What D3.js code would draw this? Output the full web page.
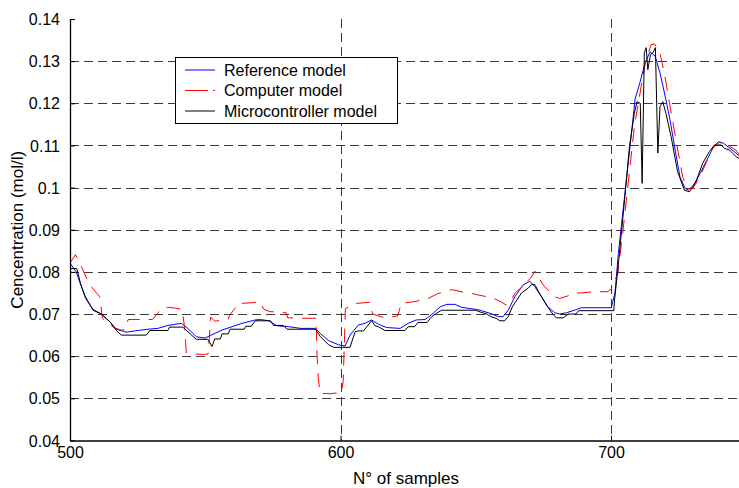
<!DOCTYPE html>
<html><head><meta charset="utf-8">
<script src="https://cdn.jsdelivr.net/npm/d3@7"></script>
<style>
body{margin:0;background:#fff;}
svg{display:block;font-family:Arial,"Liberation Sans",sans-serif;}
</style></head>
<body><svg id="c" width="739" height="488"></svg>
<script>
// ---- data (sample index, concentration mol/l) ----
const xTicks = [500, 600, 700];
const yTicks = [0.04, 0.05, 0.06, 0.07, 0.08, 0.09, 0.1, 0.11, 0.12, 0.13, 0.14];
const yTickLabels = ["0.04","0.05","0.06","0.07","0.08","0.09","0.1","0.11","0.12","0.13","0.14"];
const seriesNames = ["Reference model", "Computer model", "Microcontroller model"];

const refModel = [[500,0.0821],[502.3,0.0800],[503.6,0.0776],[505.4,0.0745],[508.5,0.0709],[511.6,0.0700],[514.7,0.0682],[517.1,0.0664],[520.8,0.0657],[523.9,0.0660],[528.8,0.0664],[532.5,0.0666],[536.2,0.0673],[541.1,0.0678],[543.6,0.0666],[546.7,0.0646],[549.9,0.0643],[552.5,0.0651],[556.2,0.0662],[559.9,0.0670],[563.6,0.0678],[568.5,0.0686],[570.4,0.0687],[573.5,0.0684],[576.6,0.0672],[580.9,0.0670],[585.2,0.0666],[590.7,0.0666],[592.5,0.0654],[595.6,0.0637],[599.3,0.0627],[601.7,0.0624],[603.5,0.0650],[606.6,0.0674],[609.1,0.0678],[611.5,0.0686],[614,0.0676],[617,0.0668],[622,0.0666],[625,0.0678],[628,0.0686],[631.3,0.0687],[634.3,0.0702],[636.8,0.0717],[639.3,0.0723],[642.3,0.0723],[644.8,0.0716],[647.9,0.0713],[650.3,0.0711],[652.1,0.0708],[655.2,0.0702],[658.3,0.0694],[660.1,0.0694],[662,0.0709],[664.4,0.0741],[667.5,0.0769],[670,0.0778],[671.8,0.0765],[674.3,0.0741],[676.7,0.0717],[679.2,0.0703],[681,0.0700],[683.5,0.0703],[685.9,0.0708],[689,0.0715],[700.1,0.0715],[701.5,0.0752],[702.7,0.0844],[704.6,0.0955],[707,0.1096],[708.9,0.1210],[710.7,0.1250],[712.6,0.1296],[714.4,0.1322],[716.3,0.1312],[718.1,0.1272],[720,0.1217],[721.8,0.1161],[723.7,0.1089],[725.5,0.1025],[727.4,0.0998],[728.6,0.0994],[730.5,0.1006],[732.9,0.1033],[735.4,0.1065],[737.9,0.1097],[739.7,0.1109],[741.6,0.1105],[744,0.1093],[747.1,0.1077],[750,0.1065]];

const computerModel = [[500,0.0821],[502,0.0841],[504,0.0816],[506.5,0.0780],[508,0.0764],[511,0.0741],[512,0.0690],[514,0.0678],[517,0.0666],[519,0.0662],[520.5,0.0664],[521.5,0.0687],[530.5,0.0687],[533.5,0.0711],[536.5,0.0716],[539,0.0714],[541.5,0.0711],[542.5,0.0660],[543,0.0607],[549,0.0604],[551,0.0605],[551.5,0.0642],[552,0.0693],[553.5,0.0683],[558.5,0.0688],[559,0.0697],[561.5,0.0718],[562,0.0725],[565,0.0726],[570.5,0.0728],[571.5,0.0712],[573.7,0.0706],[579.9,0.0703],[580.5,0.0691],[586.9,0.0690],[591,0.0690],[591.3,0.0605],[591.8,0.0549],[592.4,0.0512],[596,0.0511],[600.4,0.0514],[601,0.0542],[601.5,0.0650],[601.8,0.0713],[605.4,0.0725],[610.9,0.0728],[611.3,0.0709],[612,0.0700],[615.2,0.0693],[617.6,0.0693],[621,0.0695],[621.8,0.0709],[622.3,0.0725],[627.8,0.0730],[632.7,0.0738],[635.8,0.0748],[641.1,0.0758],[645.4,0.0752],[649.2,0.0748],[651,0.0745],[654.2,0.0741],[656.7,0.0737],[659,0.0730],[661.4,0.0721],[663.2,0.0733],[664.4,0.0749],[667,0.0764],[670.6,0.0788],[671.8,0.0802],[673,0.0790],[674.9,0.0769],[679.2,0.0741],[681,0.0737],[684,0.0743],[687.1,0.0750],[689,0.0750],[693.8,0.0753],[698.8,0.0753],[700.1,0.0760],[702.5,0.0796],[704.3,0.0891],[706.2,0.1002],[708.6,0.1144],[711.1,0.1239],[712.9,0.1303],[714.8,0.1339],[716,0.1341],[717.9,0.1324],[719.7,0.1272],[721.6,0.1201],[724,0.1113],[726.5,0.1025],[728.3,0.0998],[730.2,0.0998],[732.6,0.1022],[735.1,0.1058],[737.5,0.1093],[740,0.1107],[743,0.1101],[746.1,0.1089],[747.5,0.1077],[750,0.1062]];

const microModel = [[500,0.0808],[502.5,0.0808],[503.9,0.0772],[505.8,0.0737],[508.5,0.0711],[511.6,0.0700],[515,0.0680],[517.1,0.0661],[519,0.0650],[528.2,0.0650],[529.5,0.0661],[536.2,0.0661],[536.8,0.0669],[541.7,0.0669],[546.7,0.0640],[551,0.0640],[552.5,0.0623],[553.5,0.0641],[555.6,0.0641],[556.2,0.0653],[558.5,0.0653],[559.2,0.0664],[564.4,0.0664],[565,0.0671],[567,0.0671],[568.5,0.0684],[574.1,0.0684],[575.2,0.0673],[578.9,0.0673],[580.2,0.0664],[590.7,0.0664],[592.5,0.0647],[595.6,0.0627],[597.5,0.0621],[603.5,0.0621],[605.4,0.0658],[606.6,0.0660],[608.5,0.0660],[611.5,0.0684],[612.8,0.0672],[614,0.0670],[616.4,0.0661],[623.8,0.0661],[625,0.0670],[627.4,0.0670],[628.6,0.0680],[632,0.0680],[633.7,0.0694],[635.5,0.0702],[637.4,0.0709],[650,0.0709],[652,0.0704],[654.2,0.0700],[655.5,0.0694],[657.5,0.0690],[658.9,0.0684],[660.7,0.0684],[662,0.0694],[663.5,0.0717],[666.9,0.0750],[669.3,0.0761],[670.6,0.0770],[671.8,0.0770],[673.6,0.0749],[676.1,0.0721],[678.6,0.0699],[679.8,0.0691],[682.3,0.0691],[684.2,0.0700],[687,0.0700],[688,0.0708],[701,0.0708],[701.3,0.0733],[703.1,0.0844],[705,0.0971],[706.8,0.1097],[708.6,0.1176],[709.6,0.1204],[710.8,0.1200],[711.5,0.1010],[712.3,0.1320],[713,0.1332],[713.6,0.1280],[714.6,0.1316],[715.5,0.1320],[716.4,0.1332],[717.3,0.1082],[718.1,0.1192],[719.1,0.1204],[720.3,0.1176],[722.2,0.1121],[724.6,0.1038],[727.1,0.0994],[729,0.0990],[731.4,0.1014],[733.9,0.1058],[736.4,0.1086],[738.2,0.1101],[740.7,0.1101],[742,0.1093],[743.8,0.1089],[746.3,0.1073],[750,0.1062]];

// ---- drawing ----
const svg = d3.select("#c");
const L = 70, R = 746.3, T = 19, B = 440.5;
const x = d3.scaleLinear().domain([500, 750]).range([L, R]);
const y = d3.scaleLinear().domain([0.04, 0.14]).range([B, T]);

svg.append("defs").append("clipPath").attr("id","pc")
  .append("rect").attr("x",L).attr("y",T-5).attr("width",R-L).attr("height",B-T+5);

// grid
const grid = svg.append("g").attr("stroke","#3a3a3a").attr("stroke-width",1).attr("stroke-dasharray","9,5");
grid.selectAll(".gy").data(yTicks.filter(v => v > 0.041 && v < 0.139)).enter().append("line")
  .attr("x1",L).attr("x2",R).attr("y1",d=>Math.round(y(d))+0.5).attr("y2",d=>Math.round(y(d))+0.5);
grid.selectAll(".gx").data(xTicks.filter(v => v > 500)).enter().append("line")
  .attr("y1",T).attr("y2",B).attr("x1",d=>Math.round(x(d))+0.5).attr("x2",d=>Math.round(x(d))+0.5);

// lines
const line = d3.line().x(d=>x(d[0])).y(d=>y(d[1]));
const pl = svg.append("g").attr("clip-path","url(#pc)").attr("fill","none");
pl.append("path").datum(refModel).attr("d",line).attr("stroke","#0000ff").attr("stroke-width",1);
pl.append("path").datum(computerModel).attr("d",line).attr("stroke","#ff0000").attr("stroke-width",1).attr("stroke-dasharray","14,9");
pl.append("path").datum(microModel).attr("d",line).attr("stroke","#000000").attr("stroke-width",1);

// axes (inward ticks, no box)
const yAxis = d3.axisLeft(y).tickValues(yTicks).tickFormat((d,i)=>yTickLabels[i]).tickSizeInner(-5).tickSizeOuter(0).tickPadding(10);
const gy = svg.append("g").attr("transform",`translate(${L},0)`).call(yAxis);
const xAxis = d3.axisBottom(x).tickValues(xTicks).tickFormat(d3.format("d")).tickSizeInner(-5).tickSizeOuter(0).tickPadding(10);
const gx = svg.append("g").attr("transform",`translate(0,${B})`).call(xAxis);
[gx, gy].forEach(g=>{
  g.select(".domain").attr("stroke","#000").attr("stroke-width",1.3);
  g.selectAll(".tick line").attr("stroke","#000");
  g.selectAll(".tick text").attr("font-size",16).attr("font-family","Arial, 'Liberation Sans', sans-serif").attr("fill","#000");
});
gy.selectAll(".tick text").attr("dy","0.35em");
gx.selectAll(".tick text").attr("dy","0.72em").attr("y",6);

// axis titles
svg.append("text").attr("x",406).attr("y",484).attr("text-anchor","middle").attr("font-size",17).text("N° of samples");
svg.append("text").attr("transform",`translate(23,${(T+B)/2}) rotate(-90)`).attr("text-anchor","middle").attr("font-size",17).text("Cencentration (mol/l)");

// legend
const lg = svg.append("g");
lg.append("rect").attr("x",175.5).attr("y",57.5).attr("width",222).attr("height",66).attr("fill","#fff").attr("stroke","#000").attr("stroke-width",1);
const legStyles = [{c:"#0000ff",d:null},{c:"#ff0000",d:"23,5"},{c:"#000",d:null}];
seriesNames.forEach((nm,i)=>{
  const yy = 70 + i*20.5;
  lg.append("line").attr("x1",185).attr("x2",215).attr("y1",yy).attr("y2",yy)
    .attr("stroke",legStyles[i].c).attr("stroke-width",1).attr("stroke-dasharray",legStyles[i].d);
  lg.append("text").attr("x",224).attr("y",yy).attr("dy","0.35em").attr("font-size",16).text(nm);
});
</script></body></html>
